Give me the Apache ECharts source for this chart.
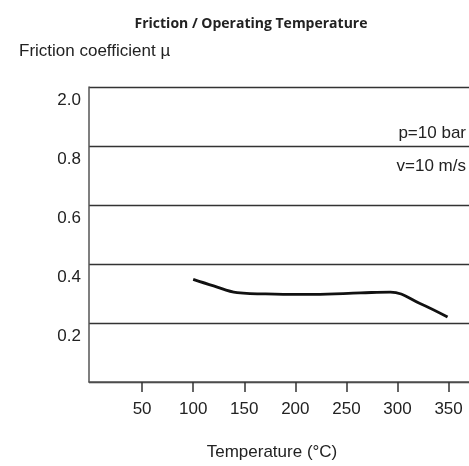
<!DOCTYPE html>
<html>
<head>
<meta charset="utf-8">
<script src="https://cdn.jsdelivr.net/npm/echarts@6/dist/echarts.min.js"></script>
<style>
    html, body { margin: 0; padding: 0; background: #fff; }
    #chart { width: 469px; height: 466px; }
</style>
</head>
<body>
<div id="chart"></div>
<script>
// curve: temperature (°C) / friction coefficient
const temps = [100, 120, 143, 180, 218, 264, 293, 322, 349];
const mu = [0.348, 0.326, 0.303, 0.298, 0.297, 0.302, 0.305, 0.266, 0.220];
const xTicks = [50, 100, 150, 200, 250, 300, 350];
const notes = ['p=10 bar', 'v=10 m/s'];

const font = '"Liberation Sans", Arial, sans-serif';
const chart = echarts.init(document.getElementById('chart'));

const option = {
    backgroundColor: '#fff',
    animation: false,
    title: [
        {
            text: 'Friction / Operating Temperature',
            left: 246,
            textAlign: 'center',
            top: 12,
            textStyle: { fontFamily: '"Open Sans", sans-serif', fontWeight: 'bold', fontSize: 14, color: '#222' },
        },
        {
            text: 'Friction coefficient \u00b5',
            left: 14,
            top: 38,
            textStyle: { fontFamily: font, fontWeight: 'normal', fontSize: 17, color: '#222' },
        },
    ],
    graphic: notes.map((t, i) => ({
        type: 'text',
        right: 3,
        top: i === 0 ? 125 : 158,
        style: { text: t, font: '17px ' + font, fill: '#222' },
    })),
    grid: { left: 89, right: 0, top: 87, bottom: 84 },
    xAxis: {
        type: 'value',
        min: -2,
        max: 370,
        name: 'Temperature (\u00b0C)',
        nameLocation: 'middle',
        nameGap: 62,
        nameTextStyle: { fontFamily: font, fontSize: 17, color: '#222', padding: [0, 14, 0, 0] },
        axisLine: { show: true, lineStyle: { color: '#555', width: 1.5 } },
        axisTick: { show: true, length: 10, customValues: xTicks, lineStyle: { color: '#333', width: 1.5 } },
        axisLabel: {
            fontFamily: font,
            fontSize: 17,
            color: '#222',
            margin: 19,
            customValues: xTicks,
        },
        splitLine: { show: false },
    },
    yAxis: {
        type: 'value',
        min: 0,
        max: 1,
        interval: 0.2,
        axisLine: { show: true, onZero: false, lineStyle: { color: '#555', width: 1.5 } },
        axisTick: { show: false },
        axisLabel: {
            fontFamily: font,
            fontSize: 17,
            color: '#222',
            margin: 8,
            verticalAlign: 'top',
            padding: [5, 0, 0, 0],
            // the top of the printed scale is broken: its line reads 2.0
            formatter: (v) => {
                if (v === 0) return '';
                if (v === 1) return '2.0';
                return v.toFixed(1);
            },
        },
        splitLine: { show: true, lineStyle: { color: '#333', width: 1.3 } },
    },
    series: [
        {
            type: 'line',
            data: temps.map((t, i) => [t, mu[i]]),
            smooth: 0.4,
            symbol: 'none',
            lineStyle: { color: '#111', width: 2.8 },
        },
    ],
};

chart.setOption(option);
</script>
</body>
</html>
